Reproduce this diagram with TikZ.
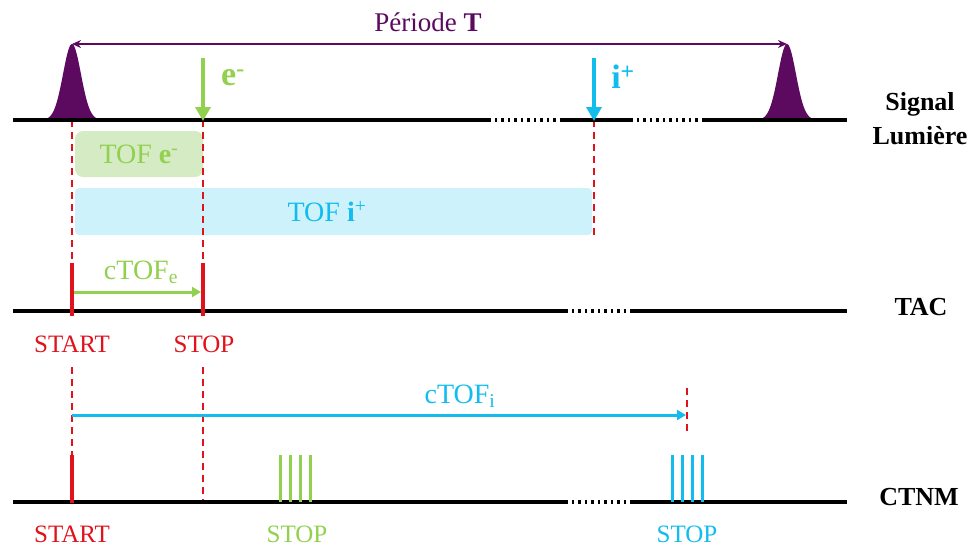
\documentclass[tikz,border=0pt]{standalone}
\usepackage{fontspec}
\setmainfont{Liberation Serif}
\usetikzlibrary{arrows.meta}
\definecolor{purp}{HTML}{5C0A60}
\definecolor{grn}{HTML}{92D050}
\definecolor{cyn}{HTML}{12BDEE}
\definecolor{rd}{HTML}{E0121B}
\definecolor{grnbox}{HTML}{D5EBC3}
\definecolor{cynbox}{HTML}{CDF2FB}
\begin{document}
\begin{tikzpicture}[x=1pt,y=-1pt,
  axisline/.style={line width=3.4pt, black},
  dotseg/.style={line width=3.4pt, black, dash pattern=on 2.5pt off 4pt},
  reddash/.style={rd, line width=2.6pt, dash pattern=on 7pt off 5pt},
  redtick/.style={rd, line width=4.4pt},
  gtick/.style={grn, line width=3pt},
  ctick/.style={cyn, line width=3pt},
  lbl/.style={inner sep=0pt, font=\fontsize{25}{27}\selectfont},
  rlbl/.style={inner sep=0pt, font=\fontsize{26}{34}\selectfont\bfseries, align=center},
  pulse/.style={fill=purp, draw=none}
]
\useasboundingbox (0,0) rectangle (970,547);

% boxes
\node[fill=grnbox, rounded corners=8pt, minimum width=128pt, minimum height=46pt, inner sep=0pt] (boxe) at (139,154) {};
\node[fill=cynbox, rounded corners=4pt, minimum width=517pt, minimum height=47pt, inner sep=0pt] (boxi) at (333.5,211.5) {};
\node[lbl, grn, font=\fontsize{28}{30}\selectfont] (tofe) at (139,154) {TOF \textbf{e}\textsuperscript{-}};
\node[lbl, cyn, font=\fontsize{28}{30}\selectfont] (tofi) at (327,212) {TOF \textbf{i}\textsuperscript{+}};

% coordinates
\coordinate (s0) at (13,120);
\coordinate (s1) at (488,120);
\coordinate (s2) at (560,120);
\coordinate (s3) at (630,120);
\coordinate (s4) at (703,120);
\coordinate (s5) at (847,120);

\coordinate (t0) at (13,311);
\coordinate (t1) at (565,311);
\coordinate (t2) at (632,311);
\coordinate (t3) at (847,311);

\coordinate (c0) at (13,502);
\coordinate (c1) at (565,502);
\coordinate (c2) at (632,502);
\coordinate (c3) at (847,502);

% red dashed lines
\coordinate (da1) at (72,120);  \coordinate (da2) at (72,263);
\coordinate (db1) at (203,120); \coordinate (db2) at (203,263);
\coordinate (dc1) at (594,120); \coordinate (dc2) at (594,236);
\coordinate (dd1) at (72,367);  \coordinate (dd2) at (72,455);
\coordinate (de1) at (203,367); \coordinate (de2) at (203,502);
\coordinate (df1) at (687,388); \coordinate (df2) at (687,433);
\draw[reddash] (da1) -- (da2);
\draw[reddash] (db1) -- (db2);
\draw[reddash] (dc1) -- (dc2);
\draw[reddash] (dd1) -- (dd2);
\draw[reddash] (de1) -- (de2);
\draw[reddash] (df1) -- (df2);

% pulses
\fill[pulse] plot[domain=-31:31, samples=90] ({\x+72}, {120-76*exp(-(\x*\x)/160)}) -- cycle;
\fill[pulse] plot[domain=-31:31, samples=90] ({\x+787}, {120-76*exp(-(\x*\x)/160)}) -- cycle;

% axes
\draw[axisline] (s0) -- (s1);
\draw[dotseg] (s1) -- (s2);
\draw[axisline] (s2) -- (s3);
\draw[dotseg] (s3) -- (s4);
\draw[axisline] (s4) -- (s5);

\draw[axisline] (t0) -- (t1);
\draw[dotseg] (t1) -- (t2);
\draw[axisline] (t2) -- (t3);

\draw[axisline] (c0) -- (c1);
\draw[dotseg] (c1) -- (c2);
\draw[axisline] (c2) -- (c3);

% period arrow
\coordinate (pl) at (72,44);
\coordinate (pr) at (787,44);
\draw[purp, line width=2.6pt, {Stealth[length=9pt,width=8pt]}-{Stealth[length=9pt,width=8pt]}] (pl) -- (pr);
\node[lbl, purp, font=\fontsize{27}{29}\selectfont] (per) at (428,22) {Période \textbf{T}};

% particle arrows
\coordinate (ea) at (203,58); \coordinate (eb) at (203,121);
\coordinate (ia) at (594,58); \coordinate (ib) at (594,121);
\draw[grn, line width=3.6pt, -{Triangle[length=14pt,width=15pt]}] (ea) -- (eb);
\draw[cyn, line width=3.6pt, -{Triangle[length=14pt,width=15pt]}] (ia) -- (ib);
\node[lbl, grn, font=\fontsize{34}{36}\selectfont\bfseries] (elab) at (233,78) {e\textsuperscript{-}};
\node[lbl, cyn, font=\fontsize{34}{36}\selectfont\bfseries] (ilab) at (623,77) {i\textsuperscript{+}};

% TAC ticks and arrow
\coordinate (ta1) at (72,263);  \coordinate (ta2) at (72,316);
\coordinate (tb1) at (203,263); \coordinate (tb2) at (203,316);
\draw[redtick] (ta1) -- (ta2);
\draw[redtick] (tb1) -- (tb2);
\coordinate (ce1) at (74,292); \coordinate (ce2) at (201,292);
\draw[grn, line width=3pt, -{Triangle[length=9pt,width=10pt]}] (ce1) -- (ce2);
\node[lbl, grn, font=\fontsize{28}{30}\selectfont] (ctofe) at (141,272) {cTOF\textsubscript{e}};

% cTOFi arrow
\coordinate (ci1) at (72,415); \coordinate (ci2) at (686,415);
\draw[cyn, line width=3pt, -{Triangle[length=9pt,width=10pt]}] (ci1) -- (ci2);
\node[lbl, cyn, font=\fontsize{28}{30}\selectfont] (ctofi) at (460,396) {cTOF\textsubscript{i}};

% CTNM ticks
\coordinate (ra1) at (72,455); \coordinate (ra2) at (72,503);
\draw[redtick] (ra1) -- (ra2);
\foreach \i/\xx in {1/280,2/290,3/300,4/310} {
  \coordinate (g\i a) at (\xx,455); \coordinate (g\i b) at (\xx,502);
  \draw[gtick] (g\i a) -- (g\i b);
}
\foreach \i/\xx in {1/672,2/682,3/692,4/702} {
  \coordinate (k\i a) at (\xx,455); \coordinate (k\i b) at (\xx,502);
  \draw[ctick] (k\i a) -- (k\i b);
}

% labels
\node[lbl, rd] (start1) at (72,344) {START};
\node[lbl, rd] (stop1) at (204,344) {STOP};
\node[lbl, rd] (start2) at (72,534) {START};
\node[lbl, grn] (stop2) at (297,534) {STOP};
\node[lbl, cyn] (stop3) at (687,534) {STOP};

\node[rlbl] (sig) at (920,119) {Signal\\Lumière};
\node[rlbl] (tac) at (921,307) {TAC};
\node[rlbl] (ctnm) at (919,497) {CTNM};
\end{tikzpicture}
\end{document}
